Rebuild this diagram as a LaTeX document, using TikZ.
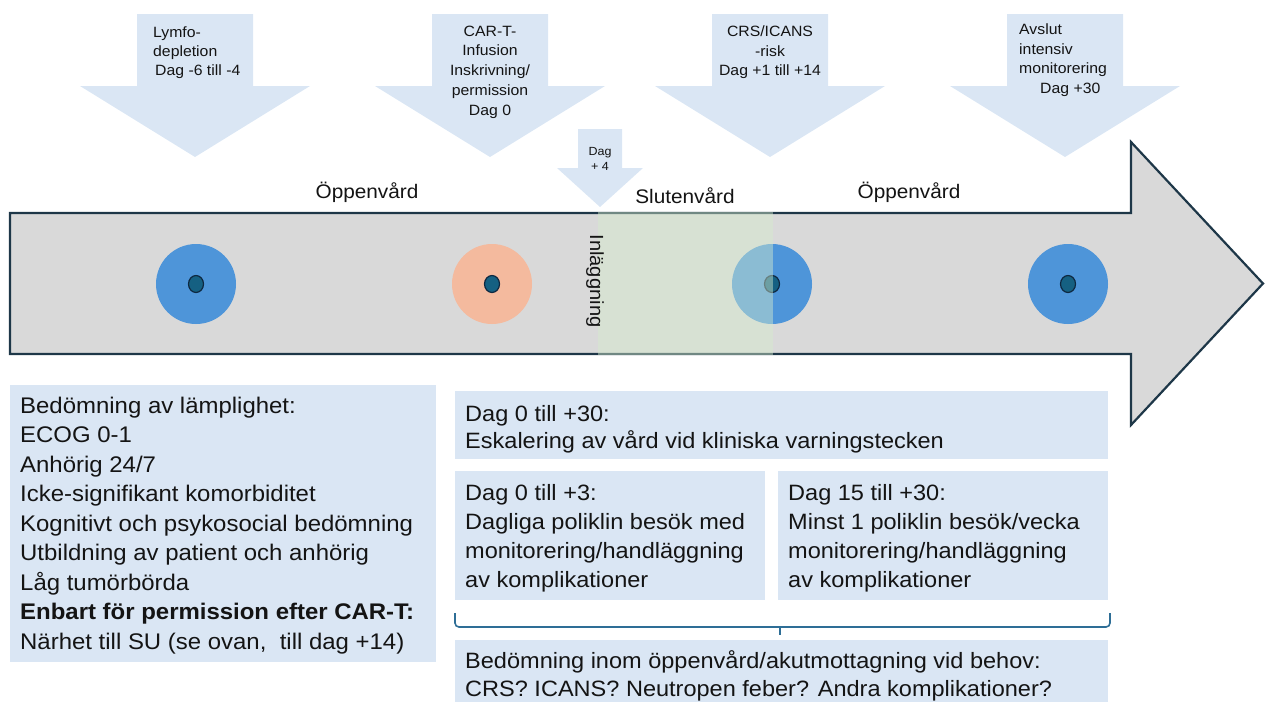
\documentclass[tikz,border=0pt]{standalone}
\usepackage{fontspec}
\setmainfont{Liberation Sans}[FakeStretch=1.06]
\usetikzlibrary{shapes.geometric}
\definecolor{lb}{RGB}{218,230,244}
\definecolor{gr}{RGB}{217,217,217}
\definecolor{outl}{RGB}{30,55,72}
\definecolor{cblue}{RGB}{78,149,217}
\definecolor{peach}{RGB}{244,186,158}
\definecolor{dotc}{RGB}{21,96,130}
\definecolor{dotl}{RGB}{14,40,65}
\definecolor{ovl}{RGB}{214,236,205}
\definecolor{brc}{RGB}{46,110,150}
\definecolor{txt}{RGB}{20,20,20}
\begin{document}
\begin{tikzpicture}[x=1pt,y=-1pt,
  lbl/.style={inner sep=0pt,text=txt,font=\fontsize{14.9}{19.5}\selectfont,anchor=base},
  phase/.style={inner sep=0pt,text=txt,font=\fontsize{19.6}{24}\selectfont,anchor=base},
  boxtxtL/.style={inner sep=0pt,text=txt,font=\fontsize{22.6}{29.5}\selectfont,align=left,anchor=base west},
  boxtxtR/.style={inner sep=0pt,text=txt,font=\fontsize{22.2}{29}\selectfont,align=left,anchor=base west},
  bigdisc/.style={circle,minimum size=80pt,inner sep=0pt,draw=none},
  centdot/.style={ellipse,minimum width=15pt,minimum height=17pt,inner sep=0pt,fill=dotc,draw=dotl,line width=1.2pt},
  infobox/.style={fill=lb,draw=none}]
\useasboundingbox (0,0) rectangle (1265,702);

% down arrows
\foreach \cx in {195,490,770,1065}{
  \fill[lb] (\cx-58,14) -- (\cx+58,14) -- (\cx+58,86) -- (\cx+115,86) -- (\cx,157) -- (\cx-115,86) -- (\cx-58,86) -- cycle;
}
\fill[lb] (578,129) -- (622,129) -- (622,168) -- (643,168) -- (600,207) -- (557,168) -- (578,168) -- cycle;

% arrow labels (anchor = baseline of last line)
\node[lbl,align=left,anchor=base west,font=\fontsize{14.9}{19}\selectfont] (l1) at (153,75) {Lymfo-\\depletion\\\hspace{2pt}Dag -6 till -4};
\node[lbl,align=center,font=\fontsize{14.9}{19.75}\selectfont] (l2) at (490,115) {CAR-T-\\Infusion\\Inskrivning/\\permission\\Dag 0};
\node[lbl,align=center] (l3) at (770,75.5) {CRS/ICANS\\-risk\\Dag +1 till +14};
\node[lbl,align=left,anchor=base west] (l4) at (1019,93) {Avslut\\intensiv\\monitorering\\\hspace{21pt}Dag +30};
\node[lbl,align=center,font=\fontsize{11.8}{15}\selectfont] (l5) at (600,170) {Dag\\+ 4};

% phase labels
\node[phase] (p1) at (367,198) {Öppenvård};
\node[phase] (p2) at (685,203) {Slutenvård};
\node[phase] (p3) at (909,198) {Öppenvård};

% big arrow
\draw[fill=gr,draw=outl,line width=2.2pt,line join=miter] (10,213) -- (1131,213) -- (1131,142) -- (1263,283.5) -- (1131,425) -- (1131,354) -- (10,354) -- cycle;

% discs
\node[bigdisc,fill=cblue] (c1) at (196,284) {};
\node[bigdisc,fill=peach] (c2) at (492,284) {};
\node[bigdisc,fill=cblue] (c3) at (772,284) {};
\node[bigdisc,fill=cblue] (c4) at (1068,284) {};
\node[centdot] (d1) at (c1) {};
\node[centdot] (d2) at (c2) {};
\node[centdot] (d3) at (c3) {};
\node[centdot] (d4) at (c4) {};

% inpatient overlay
\fill[ovl,opacity=0.45] (598,212) rectangle (773,355);
\node[inner sep=0pt,text=txt,font=\fontsize{19}{22}\selectfont,rotate=-90] (inl) at (595,281) {Inläggning};

% info boxes
\fill[infobox] (10,385) rectangle (436,662);
\node[boxtxtL] (t1) at (20,649) {Bedömning av lämplighet:\\ECOG 0-1\\Anhörig 24/7\\Icke-signifikant komorbiditet\\Kognitivt och psykosocial bedömning\\Utbildning av patient och anhörig\\Låg tumörbörda\\\textbf{Enbart för permission efter CAR-T:}\\Närhet till SU (se ovan,\ \ till dag +14)};

\fill[infobox] (455,391) rectangle (1108,459);
\node[boxtxtR,font=\fontsize{22.2}{27.5}\selectfont] (t2) at (465,448.5) {Dag 0 till +30:\\Eskalering av vård vid kliniska varningstecken};

\fill[infobox] (455,471) rectangle (765,600);
\node[boxtxtR] (t3) at (465,587) {Dag 0 till +3:\\Dagliga poliklin besök med\\monitorering/handläggning\\av komplikationer};

\fill[infobox] (778,471) rectangle (1108,600);
\node[boxtxtR] (t4) at (788,587) {Dag 15 till +30:\\Minst 1 poliklin besök/vecka\\monitorering/handläggning\\av komplikationer};

% brace
\draw[brc,line width=1.6pt,rounded corners=4pt] (455,613) -- (455,627) -- (1110,627) -- (1110,613);
\draw[brc,line width=1.6pt] (780,627) -- (780,635);

\fill[infobox] (455,640) rectangle (1108,702);
\node[boxtxtR,font=\fontsize{22.2}{28}\selectfont] (t5) at (465,696) {Bedömning inom öppenvård/akutmottagning vid behov:\\CRS? ICANS? Neutropen feber? Andra komplikationer?};
\end{tikzpicture}
\end{document}
